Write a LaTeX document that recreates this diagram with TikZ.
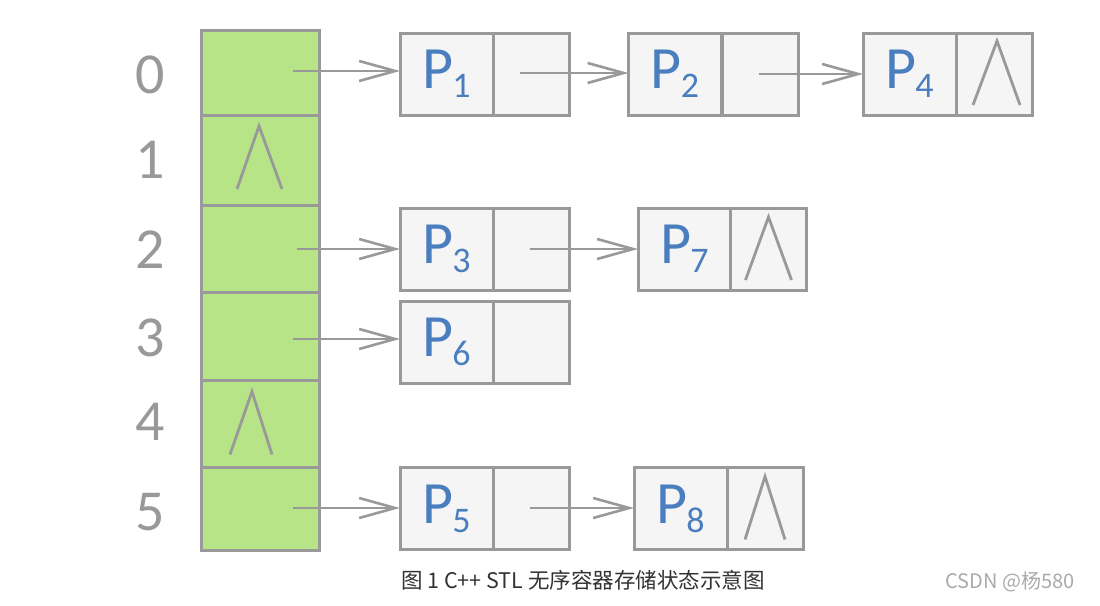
\documentclass[tikz,border=0pt]{standalone}
\usepackage{fontspec}
\setmainfont{Carlito}
\newfontfamily\cjk{Noto Sans CJK SC}
\usetikzlibrary{arrows.meta,calc}
\definecolor{lgray}{HTML}{999999}
\definecolor{cgreen}{HTML}{B7E486}
\definecolor{boxfill}{HTML}{F5F5F5}
\definecolor{pblue}{HTML}{4A7EBF}
\definecolor{capgray}{HTML}{333333}
\definecolor{wmgray}{HTML}{AAAAAA}
\newcommand{\PL}[1]{P\kern-1pt\raisebox{-9pt}{\fontsize{36}{36}\selectfont #1}}
\begin{document}
\begin{tikzpicture}[x=1pt,y=-1pt,
  cell/.style={draw=lgray,line width=3pt,fill=cgreen,minimum width=118pt,inner sep=0pt,outer sep=0pt},
  dat/.style={draw=lgray,line width=3pt,fill=boxfill,minimum width=93pt,minimum height=82pt,inner sep=0pt,outer sep=0pt,text=pblue,font=\fontsize{60}{62}\selectfont},
  ptr/.style={draw=lgray,line width=3pt,fill=boxfill,minimum width=76pt,minimum height=82pt,inner sep=0pt,outer sep=0pt},
  idx/.style={text=lgray,font=\fontsize{58}{60}\selectfont,inner sep=0pt},
  arr/.style={draw=lgray,line width=2.6pt,-{Straight Barb[length=36pt,width=20pt,line width=2.6pt]}},
  nul/.style={draw=lgray,line width=2.8pt}]
\useasboundingbox[fill=white] (0,0) rectangle (1100,605);
% bucket cells
\node[cell,minimum height=85pt] (c0) at (260,72.5) {};
\node[cell,minimum height=90pt] (c1) at (260,160) {};
\node[cell,minimum height=87pt] (c2) at (260,248.5) {};
\node[cell,minimum height=88pt] (c3) at (260,336) {};
\node[cell,minimum height=87pt] (c4) at (260,423.5) {};
\node[cell,minimum height=83pt] (c5) at (260,508.5) {};
% indices
\node[idx] (i0) at (150,75) {0};
\node[idx] (i1) at (150,160) {1};
\node[idx] (i2) at (150,250) {2};
\node[idx] (i3) at (150,338) {3};
\node[idx] (i4) at (150,422) {4};
\node[idx] (i5) at (150,512) {5};
% list nodes
\node[dat] (p1d) at (446.5,74) {\PL{1}};
\node[ptr] (p1p) at (531,74) {};
\node[dat] (p2d) at (675,74) {\PL{2}};
\node[ptr] (p2p) at (760,74) {};
\node[dat] (p4d) at (909.5,74) {\PL{4}};
\node[ptr] (p4p) at (994,74) {};
\node[dat] (p3d) at (446.5,249) {\PL{3}};
\node[ptr] (p3p) at (531,249) {};
\node[dat] (p7d) at (684.5,249) {\PL{7}};
\node[ptr] (p7p) at (768.5,249) {};
\node[dat] (p6d) at (446.5,342) {\PL{6}};
\node[ptr] (p6p) at (531,342) {};
\node[dat] (p5d) at (446.5,508.5) {\PL{5}};
\node[ptr] (p5p) at (531,508.5) {};
\node[dat] (p8d) at (680.5,508.5) {\PL{8}};
\node[ptr] (p8p) at (765,508.5) {};
% null markers
\draw[nul] ($(c1.center)+(-23,29)$) -- ($(c1.center)+(-1,-34)$) -- ($(c1.center)+(22,29)$);
\draw[nul] ($(c4.center)+(-30,31)$) -- ($(c4.center)+(-8,-32)$) -- ($(c4.center)+(12,31)$);
\draw[nul] ($(p4p.center)+(-21,31)$) -- ($(p4p.center)+(3,-33)$) -- ($(p4p.center)+(26,31)$);
\draw[nul] ($(p7p.center)+(-23,31)$) -- ($(p7p.center)+(0,-32)$) -- ($(p7p.center)+(23,31)$);
\draw[nul] ($(p8p.center)+(-20,31)$) -- ($(p8p.center)+(0,-32)$) -- ($(p8p.center)+(20,31)$);
% arrow starts
\coordinate (s0) at (293,71);
\coordinate (s2) at (297,249);
\coordinate (s3) at (293,339);
\coordinate (s5) at (293,508);
\coordinate (t1) at (520,73);
\coordinate (t2) at (759,74);
\coordinate (t3) at (530,249);
\coordinate (t5) at (530,508);
\draw[arr] (s0) -- (s0 -| p1d.west);
\draw[arr] (t1) -- (t1 -| p2d.west);
\draw[arr] (t2) -- (t2 -| p4d.west);
\draw[arr] (s2) -- (s2 -| p3d.west);
\draw[arr] (t3) -- (t3 -| p7d.west);
\draw[arr] (s3) -- (s3 -| p6d.west);
\draw[arr] (s5) -- (s5 -| p5d.west);
\draw[arr] (t5) -- (t5 -| p8d.west);
% caption
\node[text=capgray,font=\cjk\fontsize{21.5}{22}\selectfont,inner sep=0pt] (cap) at (583,580) {图 1 C++ STL 无序容器存储状态示意图};
\node[text=wmgray,font=\cjk\fontsize{20}{22}\selectfont,inner sep=0pt] (wm) at (1010,582) {CSDN @杨580};
\end{tikzpicture}
\end{document}
